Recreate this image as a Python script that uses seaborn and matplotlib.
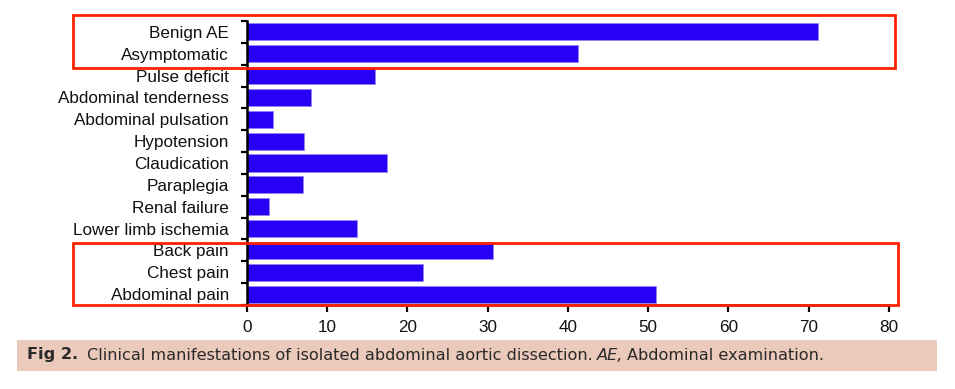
import numpy as np
import pandas as pd
import matplotlib
matplotlib.use("Agg")
import matplotlib.pyplot as plt
import matplotlib.patches as patches
import seaborn as sns

# Data
symptoms = ["Benign AE", "Asymptomatic", "Pulse deficit", "Abdominal tenderness",
            "Abdominal pulsation", "Hypotension", "Claudication", "Paraplegia",
            "Renal failure", "Lower limb ischemia", "Back pain", "Chest pain",
            "Abdominal pain"]
values = [71.1, 41.2, 16.0, 8.0, 3.2, 7.1, 17.4, 7.0, 2.7, 13.7, 30.6, 21.9, 51.0]
x_ticks = [0, 10, 20, 30, 40, 50, 60, 70, 80]

df = pd.DataFrame({"Symptom": symptoms, "Value": values})

sns.set_style("ticks", {"axes.edgecolor": "black", "xtick.color": "black",
                        "ytick.color": "black", "text.color": "black"})
plt.rcParams["font.family"] = ["Liberation Sans", "DejaVu Sans"]
plt.rcParams["font.sans-serif"] = ["Liberation Sans", "DejaVu Sans"]

fig = plt.figure(figsize=(9.55, 3.89), dpi=100)
ax = fig.add_axes([0.2586, 0.2159, 0.6723, 0.7301])

sns.barplot(data=df, x="Value", y="Symptom", orient="h", color="#2800F6",
            saturation=1, width=0.78, edgecolor="#8f86f8", linewidth=0.6, ax=ax)

ax.set_xlim(0, 80)
ax.set_ylim(len(symptoms) - 0.5, -0.5)
ax.set_xticks(x_ticks)
ax.set_xticklabels([str(t) for t in x_ticks], fontsize=12.3, family="Liberation Sans",
                   color="#111111")
ax.set_yticks(range(len(symptoms)))
ax.set_yticklabels(symptoms, fontsize=12.3, family="Liberation Sans", color="#111111")
ax.set_yticks(np.arange(-0.5, len(symptoms), 1.0), minor=True)
ax.tick_params(axis="y", which="major", length=0, pad=13)
ax.tick_params(axis="y", which="minor", length=4, width=1.6, direction="out",
               color="black")
ax.tick_params(axis="x", which="major", length=5, width=1.6, pad=6, color="black")
ax.set_xlabel("")
ax.set_ylabel("")
sns.despine(ax=ax)
for s in ["left", "bottom"]:
    ax.spines[s].set_linewidth(1.8)
    ax.spines[s].set_color("black")

# red highlight boxes (around first two and last three categories)
box_kw = dict(fill=False, edgecolor="#ff2200", linewidth=2.0, clip_on=False, zorder=5)
ax.add_patch(patches.Rectangle((-21.7, -0.77), 102.4, 2.42, **box_kw))
ax.add_patch(patches.Rectangle((-21.7, 9.66), 102.8, 2.85, **box_kw))

# caption strip
fig.patches.append(patches.Rectangle((17 / 955, 1 - 371 / 389), 920 / 955, 31 / 389,
                                     transform=fig.transFigure, facecolor="#ebc9bb",
                                     edgecolor="none", zorder=0))
cap_y = 1 - 355 / 389
cap_font = "DejaVu Sans"
cap_size = 11.6
pieces = [("Fig 2.", "bold", "normal", 9),
          ("Clinical manifestations of isolated abdominal aortic dissection.", "normal", "normal", 4),
          ("AE,", "normal", "italic", 4),
          ("Abdominal examination.", "normal", "normal", 0)]
renderer = fig.canvas.get_renderer()
x_px = 27
for txt, weight, style, gap in pieces:
    t = fig.text(x_px / 955, cap_y, txt, fontsize=cap_size, fontweight=weight,
                 style=style, family=cap_font, va="center", color="#2a2a2a")
    bb = t.get_window_extent(renderer=renderer)
    x_px = bb.x1 + gap

fig.savefig("out.png", dpi=100)
